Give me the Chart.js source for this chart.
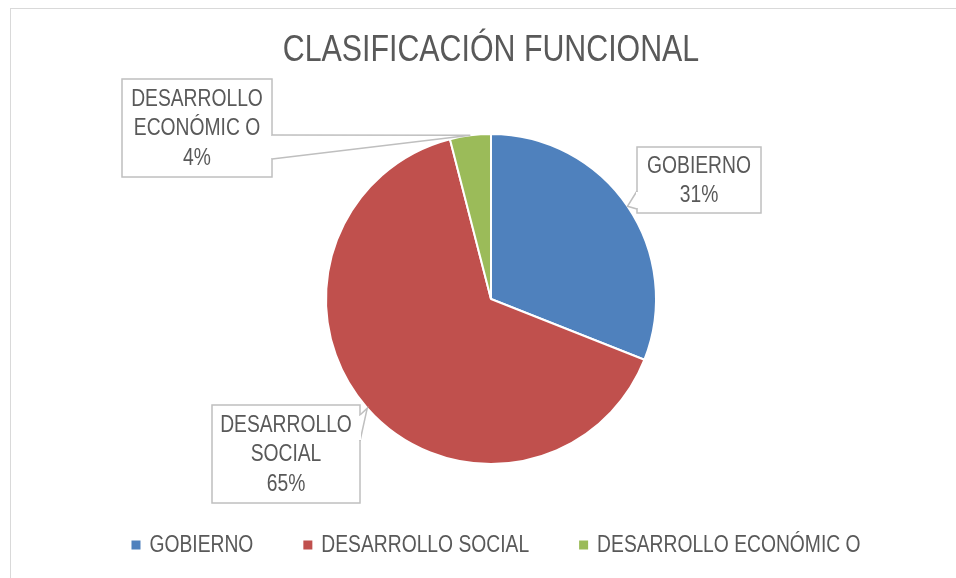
<!DOCTYPE html>
<html>
<head>
<meta charset="utf-8">
<script src="https://cdn.jsdelivr.net/npm/chart.js@4.4.1/dist/chart.umd.min.js"></script>
<style>
  html, body { margin: 0; padding: 0; background: #fff; }
  #wrap { width: 956px; height: 578px; }
</style>
</head>
<body>
<div id="wrap"><canvas id="grafica" width="956" height="578"></canvas></div>
<script>
// datos de la gráfica
const titulo = 'CLASIFICACIÓN FUNCIONAL';
const categorias = ['GOBIERNO', 'DESARROLLO SOCIAL', 'DESARROLLO ECONÓMIC O'];
const porcentajes = [31, 65, 4];
const etiquetas = [['GOBIERNO', '31%'], ['DESARROLLO', 'SOCIAL', '65%'], ['DESARROLLO', 'ECONÓMIC O', '4%']];
const colores = ['#4F81BD', '#C0504D', '#9BBB59'];

const FUENTE = '"Liberation Sans", Arial, sans-serif';
const ESTRECHO = 0.82; // no hay Calibri, se estrecha la letra
const GRIS_TEXTO = '#595959';

// cajas de las etiquetas (x, y, ancho, alto) y en qué lado sale la flecha
const cajas = [
  { x: 637, y: 147, w: 124, h: 66, lado: 'izq', a: 44, b: 62 },
  { x: 212, y: 405, w: 148, h: 98, lado: 'der', a: 10, b: 36 },
  { x: 122, y: 79, w: 150, h: 98, lado: 'der', a: 56, b: 80 }
];

// texto estrecho (centrado o a la izquierda)
function texto(ctx, t, x, y, alinear) {
  ctx.save();
  ctx.translate(x, y);
  ctx.scale(ESTRECHO, 1);
  ctx.textAlign = alinear || 'center';
  ctx.textBaseline = 'middle';
  ctx.fillText(t, 0, 0);
  ctx.restore();
}

// marco y título
const marco = {
  id: 'marco',
  beforeDraw(chart) {
    const ctx = chart.ctx;
    ctx.save();
    ctx.strokeStyle = '#D9D9D9';
    ctx.lineWidth = 1;
    ctx.strokeRect(10.5, 8.5, 1000, 700);
    ctx.fillStyle = GRIS_TEXTO;
    ctx.font = '37px ' + FUENTE;
    texto(ctx, titulo, 491, 51);
    ctx.restore();
  }
};

// etiquetas tipo globo con flecha hacia el centro del arco
const globos = {
  id: 'globos',
  afterDatasetsDraw(chart) {
    const ctx = chart.ctx;
    const meta = chart.getDatasetMeta(0);
    ctx.save();
    meta.data.forEach((arc, i) => {
      const c = cajas[i];
      const mid = (arc.startAngle + arc.endAngle) / 2;
      const tx = arc.x + Math.cos(mid) * arc.outerRadius;
      const ty = arc.y + Math.sin(mid) * arc.outerRadius;
      const bx = c.lado === 'izq' ? c.x : c.x + c.w;

      ctx.fillStyle = '#fff';
      ctx.strokeStyle = '#BFBFBF';
      ctx.lineWidth = 1.5;
      ctx.fillRect(c.x, c.y, c.w, c.h);
      ctx.strokeRect(c.x, c.y, c.w, c.h);

      // flecha
      ctx.beginPath();
      ctx.moveTo(bx, c.y + c.a);
      ctx.lineTo(tx, ty);
      ctx.lineTo(bx, c.y + c.b);
      ctx.closePath();
      ctx.fill();
      ctx.beginPath();
      ctx.moveTo(bx, c.y + c.a);
      ctx.lineTo(tx, ty);
      ctx.lineTo(bx, c.y + c.b);
      ctx.stroke();
      ctx.strokeStyle = '#fff';
      ctx.lineWidth = 2;
      ctx.beginPath();
      ctx.moveTo(bx, c.y + c.a + 1);
      ctx.lineTo(bx, c.y + c.b - 1);
      ctx.stroke();

      // texto
      ctx.fillStyle = GRIS_TEXTO;
      ctx.font = '23.5px ' + FUENTE;
      const lineas = etiquetas[i];
      const alto = 29.5;
      const y0 = c.y + c.h / 2 - (lineas.length - 1) * alto / 2 + 1;
      lineas.forEach((t, k) => texto(ctx, t, c.x + c.w / 2, y0 + k * alto));
    });
    ctx.restore();
  }
};

// leyenda abajo
const leyenda = {
  id: 'leyenda',
  afterDraw(chart) {
    const ctx = chart.ctx;
    ctx.save();
    ctx.font = '23.5px ' + FUENTE;
    const cuadro = 9, sep = 9, hueco = 50;
    const anchos = categorias.map(t => ctx.measureText(t).width * ESTRECHO);
    const total = anchos.reduce((s, w) => s + cuadro + sep + w, 0) + hueco * (categorias.length - 1);
    let x = 496 - total / 2;
    const y = 545;
    categorias.forEach((t, i) => {
      ctx.fillStyle = colores[i];
      ctx.fillRect(x, y - cuadro / 2, cuadro, cuadro);
      ctx.fillStyle = GRIS_TEXTO;
      texto(ctx, t, x + cuadro + sep, y + 1, 'left');
      x += cuadro + sep + anchos[i] + hueco;
    });
    ctx.restore();
  }
};

new Chart(document.getElementById('grafica'), {
  type: 'pie',
  data: {
    labels: categorias,
    datasets: [{
      data: porcentajes,
      backgroundColor: colores,
      borderColor: '#fff',
      borderWidth: 2
    }]
  },
  options: {
    responsive: false,
    animation: false,
    layout: { padding: { top: 133, left: 26, right: 0, bottom: 113 } },
    plugins: {
      legend: { display: false },
      tooltip: { enabled: false },
      title: { display: false }
    }
  },
  plugins: [marco, globos, leyenda]
});
</script>
</body>
</html>
